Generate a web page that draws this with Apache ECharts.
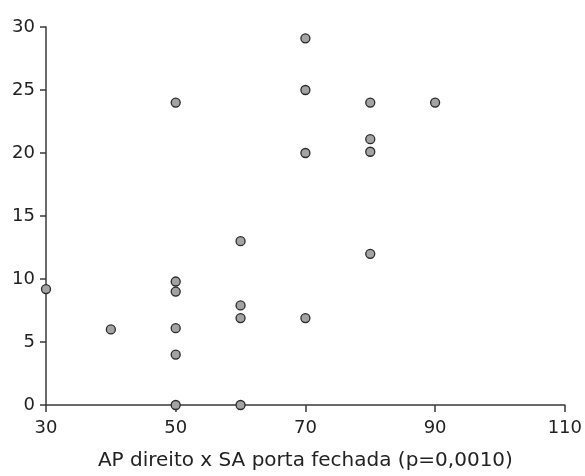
<!DOCTYPE html>
<html><head><meta charset="utf-8">
<script src="https://cdn.jsdelivr.net/npm/echarts@6/dist/echarts.min.js"></script>
<style>html,body{margin:0;padding:0;background:#fff}#c{width:585px;height:476px}</style>
</head><body><div id="c"></div>
<script>
const xValues = [30, 40, 50, 50, 50, 50, 50, 50, 60, 60, 60, 60, 70, 70, 70, 70, 80, 80, 80, 80, 90];
const yValues = [9.2, 6.0, 24, 9.8, 9.0, 6.1, 4.0, 0, 13, 7.9, 6.9, 0, 29.1, 25, 20, 6.9, 24, 21.1, 20.1, 12, 24];
const xTicks = [30, 50, 70, 90, 110];
const yTicks = [0, 5, 10, 15, 20, 25, 30];
const xTitle = 'AP direito x SA porta fechada (p=0,0010)';

const points = xValues.map((x, i) => [x, yValues[i]]);
const font = '"DejaVu Sans", sans-serif';
const axisCol = '#3a3a3a';
const chart = echarts.init(document.getElementById('c'), null, {renderer: 'canvas'});
chart.setOption({
  animation: false,
  grid: {left: 46, right: 20, top: 27, bottom: 70, containLabel: false},
  xAxis: {
    type: 'value', min: xTicks[0], max: xTicks[xTicks.length - 1], interval: 20,
    name: xTitle, nameLocation: 'middle', nameGap: 46,
    nameTextStyle: {fontFamily: font, fontSize: 20, color: '#222'},
    axisLine: {onZero: false, lineStyle: {color: axisCol, width: 1.5}},
    axisTick: {show: true, length: 7, lineStyle: {color: axisCol, width: 1.5}},
    axisLabel: {fontFamily: font, fontSize: 18, color: '#222', margin: 14},
    splitLine: {show: false}
  },
  yAxis: {
    type: 'value', min: yTicks[0], max: yTicks[yTicks.length - 1], interval: 5,
    axisLine: {show: true, onZero: false, lineStyle: {color: axisCol, width: 1.5}},
    axisTick: {show: true, length: 6, lineStyle: {color: axisCol, width: 1.5}},
    axisLabel: {fontFamily: font, fontSize: 18, color: '#222', margin: 11},
    splitLine: {show: false}
  },
  series: [{
    type: 'scatter', data: points, symbol: 'circle', symbolSize: 9,
    itemStyle: {color: '#a3a3a3', borderColor: '#2a2a2a', borderWidth: 1.3, opacity: 1},
    clip: false
  }]
});
</script></body></html>
